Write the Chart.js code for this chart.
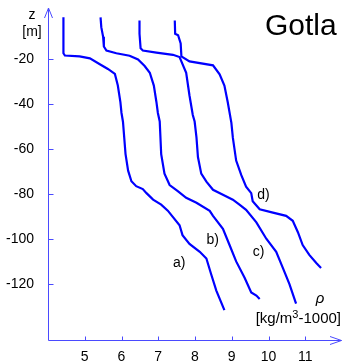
<!DOCTYPE html>
<html>
<head>
<meta charset="utf-8">
<script src="https://cdn.jsdelivr.net/npm/chart.js@4"></script>
<style>
  html, body { margin: 0; padding: 0; background: #fff; }
  canvas { display: block; }
</style>
</head>
<body>
<canvas id="chart" width="342" height="363"></canvas>
<script>
// density profiles, rho in kg/m3-1000, z in m
const aRho = [4.42, 4.42, 4.46, 4.86, 5.14, 5.41, 5.63, 5.82, 5.90, 5.97, 6.00, 6.04, 6.11, 6.18, 6.27, 6.40, 6.58, 6.68, 6.86, 7.08, 7.26, 7.58, 7.66, 7.85, 8.13, 8.31, 8.44, 8.58, 8.80];
const aZ = [-1.3, -17.3, -18.3, -18.7, -19.6, -22.2, -24.3, -26.5, -31.7, -39.1, -43.9, -47.8, -62.2, -69.6, -74.3, -76.5, -77.8, -79.6, -82.5, -84.7, -87.4, -93.9, -98.3, -102.2, -105.7, -108.7, -115.7, -123.0, -131.7];

const bRho = [5.43, 5.45, 5.50, 5.52, 5.59, 5.86, 6.22, 6.45, 6.63, 6.77, 6.88, 6.95, 6.99, 7.04, 7.08, 7.17, 7.31, 7.54, 7.76, 8.04, 8.40, 8.49, 8.76, 8.94, 9.12, 9.35, 9.53, 9.67, 9.76];
const bZ = [-1.3, -5.7, -10.0, -14.3, -16.1, -17.3, -18.4, -20.1, -23.0, -26.0, -31.7, -39.0, -43.9, -47.7, -62.2, -70.9, -76.0, -78.8, -81.7, -83.9, -87.5, -89.7, -95.5, -102.7, -110.0, -117.3, -123.8, -125.2, -126.7];

const cRho = [6.49, 6.49, 6.52, 6.58, 6.95, 7.40, 7.58, 7.76, 7.85, 7.94, 7.99, 8.04, 8.08, 8.17, 8.31, 8.49, 8.76, 9.03, 9.21, 9.39, 9.67, 9.94, 10.21, 10.39, 10.57, 10.75];
const cZ = [-2.7, -8.6, -15.1, -16.1, -17.0, -18.0, -19.0, -26.0, -36.1, -44.8, -47.7, -54.8, -63.5, -70.9, -74.5, -78.1, -80.3, -82.5, -84.7, -87.0, -92.6, -99.9, -105.7, -112.9, -120.1, -128.8];

const dRho = [7.45, 7.46, 7.54, 7.61, 7.63, 7.85, 8.49, 8.67, 8.80, 8.89, 8.99, 9.03, 9.12, 9.26, 9.39, 9.53, 9.57, 9.76, 10.12, 10.48, 10.66, 10.80, 10.93, 11.11, 11.30, 11.43];
const dZ = [-2.7, -8.6, -9.3, -12.9, -18.7, -20.9, -22.7, -26.7, -31.7, -39.0, -48.3, -54.9, -65.1, -71.6, -76.7, -79.6, -83.2, -86.8, -88.3, -89.7, -91.9, -97.0, -102.7, -107.1, -110.7, -112.9];

const xTicks = [5, 6, 7, 8, 9, 10, 11];
const yTicks = [-120, -100, -80, -60, -40, -20];

// curve labels: [text, rho, z]
const curveLabels = [["a)", 7.57, -110.9], ["b)", 8.48, -100.4], ["c)", 9.73, -105.7], ["d)", 9.86, -80.4]];

const toPts = (xs, zs) => xs.map((v, i) => ({ x: v, y: zs[i] }));
const lineDs = (xs, zs) => ({
  data: toPts(xs, zs),
  showLine: true,
  borderColor: "#0000ff",
  borderWidth: 2.2,
  pointRadius: 0,
  tension: 0,
  fill: false,
});

const FONT = "'Liberation Sans', Arial, sans-serif";
const AXIS = "#4a4aff";

const decor = {
  id: "decor",
  afterDraw(chart) {
    const { ctx, scales: { x, y } } = chart;
    const ax = Math.round(x.getPixelForValue(4)) + 0.5;
    const ay = Math.round(y.getPixelForValue(-145)) + 0.5;
    ctx.save();
    ctx.strokeStyle = AXIS;
    ctx.lineWidth = 1;
    ctx.beginPath();
    // y axis + arrow
    ctx.moveTo(ax, ay);
    ctx.lineTo(ax, 8);
    ctx.moveTo(ax - 4, 18);
    ctx.lineTo(ax, 8);
    ctx.lineTo(ax + 4, 18);
    // x axis + arrow
    ctx.moveTo(ax, ay);
    ctx.lineTo(341.5, ay);
    ctx.moveTo(330, ay - 4);
    ctx.lineTo(341.5, ay);
    ctx.lineTo(330, ay + 4);
    // tick marks
    yTicks.forEach((v) => {
      const py = Math.round(y.getPixelForValue(v)) + 0.5;
      ctx.moveTo(ax, py);
      ctx.lineTo(ax + 5, py);
    });
    xTicks.forEach((v) => {
      const px = Math.round(x.getPixelForValue(v)) + 0.5;
      ctx.moveTo(px, ay);
      ctx.lineTo(px, ay - 4);
    });
    ctx.stroke();

    ctx.fillStyle = "#000";
    ctx.textBaseline = "middle";
    ctx.textAlign = "center";
    ctx.font = "14px " + FONT;
    ctx.fillText("z", 32, 15);
    ctx.fillText("[m]", 32, 32);

    curveLabels.forEach(([t, r, z]) => {
      ctx.fillText(t, x.getPixelForValue(r), y.getPixelForValue(z));
    });

    ctx.textAlign = "left";
    ctx.textBaseline = "alphabetic";
    ctx.font = "30px " + FONT;
    ctx.fillText("Gotla", 265, 35);

    ctx.font = "italic 15px " + FONT;
    ctx.textAlign = "center";
    ctx.fillText("ρ", 320, 303);

    // [kg/m³-1000] with raised 3
    ctx.textAlign = "left";
    const base = 323;
    const p1 = "[kg/m", p2 = "3", p3 = "-1000]";
    ctx.font = "15px " + FONT;
    const w1 = ctx.measureText(p1).width, w3 = ctx.measureText(p3).width;
    ctx.font = "11px " + FONT;
    const w2 = ctx.measureText(p2).width;
    let sx = 341 - (w1 + w2 + w3);
    ctx.font = "15px " + FONT;
    ctx.fillText(p1, sx, base);
    ctx.font = "11px " + FONT;
    ctx.fillText(p2, sx + w1, base - 5);
    ctx.font = "15px " + FONT;
    ctx.fillText(p3, sx + w1 + w2, base);
    ctx.restore();
  },
};

new Chart(document.getElementById("chart"), {
  type: "scatter",
  data: {
    datasets: [lineDs(aRho, aZ), lineDs(bRho, bZ), lineDs(cRho, cZ), lineDs(dRho, dZ)],
  },
  options: {
    responsive: false,
    animation: false,
    layout: { padding: { top: 7, right: 0, left: 0, bottom: 0 } },
    plugins: { legend: { display: false }, tooltip: { enabled: false } },
    scales: {
      x: {
        type: "linear",
        min: 4,
        max: 12,
        grid: { display: false },
        border: { display: false },
        afterBuildTicks: (s) => { s.ticks = xTicks.map((v) => ({ value: v })); },
        afterFit: (s) => { s.height = 23; },
        ticks: { color: "#000", font: { family: FONT, size: 14 }, padding: 1, maxRotation: 0 },
      },
      y: {
        type: "linear",
        min: -145,
        max: 0,
        grid: { display: false },
        border: { display: false },
        afterBuildTicks: (s) => { s.ticks = yTicks.map((v) => ({ value: v })); },
        afterFit: (s) => { s.width = 48; },
        ticks: { color: "#000", font: { family: FONT, size: 14 }, padding: 6 },
      },
    },
  },
  plugins: [decor],
});
</script>
</body>
</html>
